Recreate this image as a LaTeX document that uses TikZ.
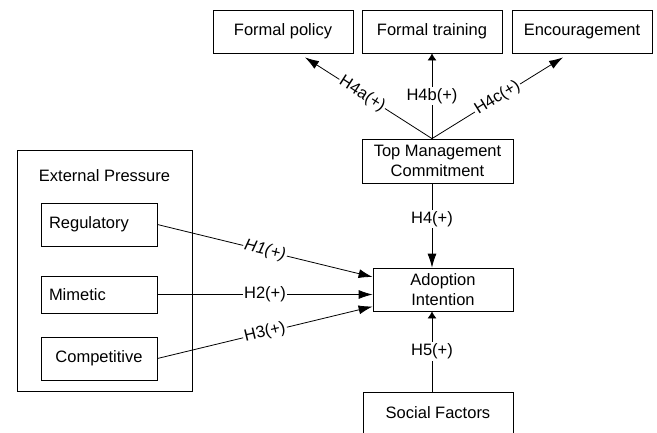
\documentclass[tikz,border=0pt]{standalone}
\usepackage{fontspec}
\setmainfont{Liberation Sans}
\usetikzlibrary{arrows.meta}

\tikzset{
  box/.style={draw,line width=0.8pt,align=center,inner sep=2pt},
  leftbox/.style={box,text width=100pt,inner xsep=8pt,align=left},
  hyp/.style={-{Latex[length=14pt,width=9pt]},line width=0.8pt},
  hypshort/.style={-{Latex[length=7pt,width=9pt]},line width=0.8pt},
  lab/.style={fill=white,inner sep=1.5pt},
}

\begin{document}
\begin{tikzpicture}[x=1pt,y=-1pt,font=\fontsize{16.5}{20.5}\selectfont]
                \useasboundingbox (0,0) rectangle (657,432);
                \clip (0,0) rectangle (657,432);
                % outcomes of management commitment
                \node[box,minimum width=140pt,minimum height=43pt] (fp) at (283,31.5) {Formal policy};
                \node[box,minimum width=140pt,minimum height=43pt] (ft) at (432,31.5) {Formal training};
                \node[box,minimum width=140pt,minimum height=43pt] (enc) at (582,31.5) {Encouragement};
                \node[box,minimum width=151pt,minimum height=44pt] (tmc) at (437.5,161) {Top Management\\Commitment};
                \node[box,minimum width=140pt,minimum height=43pt] (ai) at (443,289.5) {Adoption\\Intention};
                \node[box,minimum width=150pt,minimum height=41pt] (sf) at (438,412.5) {Social Factors};
                % external pressure group
                \node[box,minimum width=175pt,minimum height=241pt] (ep) at (104.5,270.5) {};
                \node (eptitle) at ([yshift=-26pt]ep.north) {External Pressure};
                \node[leftbox,minimum height=43pt] (reg) at (99,224.5) {Regulatory};
                \node[leftbox,minimum height=37pt] (mim) at (99,294.5) {Mimetic};
                \node[box,minimum width=116pt,minimum height=43pt] (comp) at (99,358.5) {Competitive};
                % hypotheses
                \draw[hyp] (reg.east) -- node[lab,sloped]{\itshape H1(+)} ([yshift=12.5pt]ai.west);
                \draw[hyp] (mim.east) -- node[lab]{H2(+)} (mim.east -| ai.west);
                \draw[hyp] (comp.east) -- node[lab,sloped]{H3(+)} ([yshift=-17pt]ai.west);
                \coordinate (hub) at (tmc.north -| ft.south);
                \draw[hyp] (hub) -- node[lab,sloped,pos=0.55]{H4a(+)} ([xshift=22pt,yshift=-4pt]fp.south);
                \draw[hypshort] (hub) -- node[lab]{H4b(+)} (ft.south);
                \draw[hyp] (hub) -- node[lab,sloped]{H4c(+)} ([xshift=-19pt,yshift=-4pt]enc.south);
                \draw[hyp] (tmc.south -| ft.south) -- node[lab,pos=0.42]{H4(+)} (ai.north -| ft.south);
                \draw[hypshort] (sf.north -| ft.south) -- node[lab]{H5(+)} (ai.south -| ft.south);
            \end{tikzpicture}
\end{document}
